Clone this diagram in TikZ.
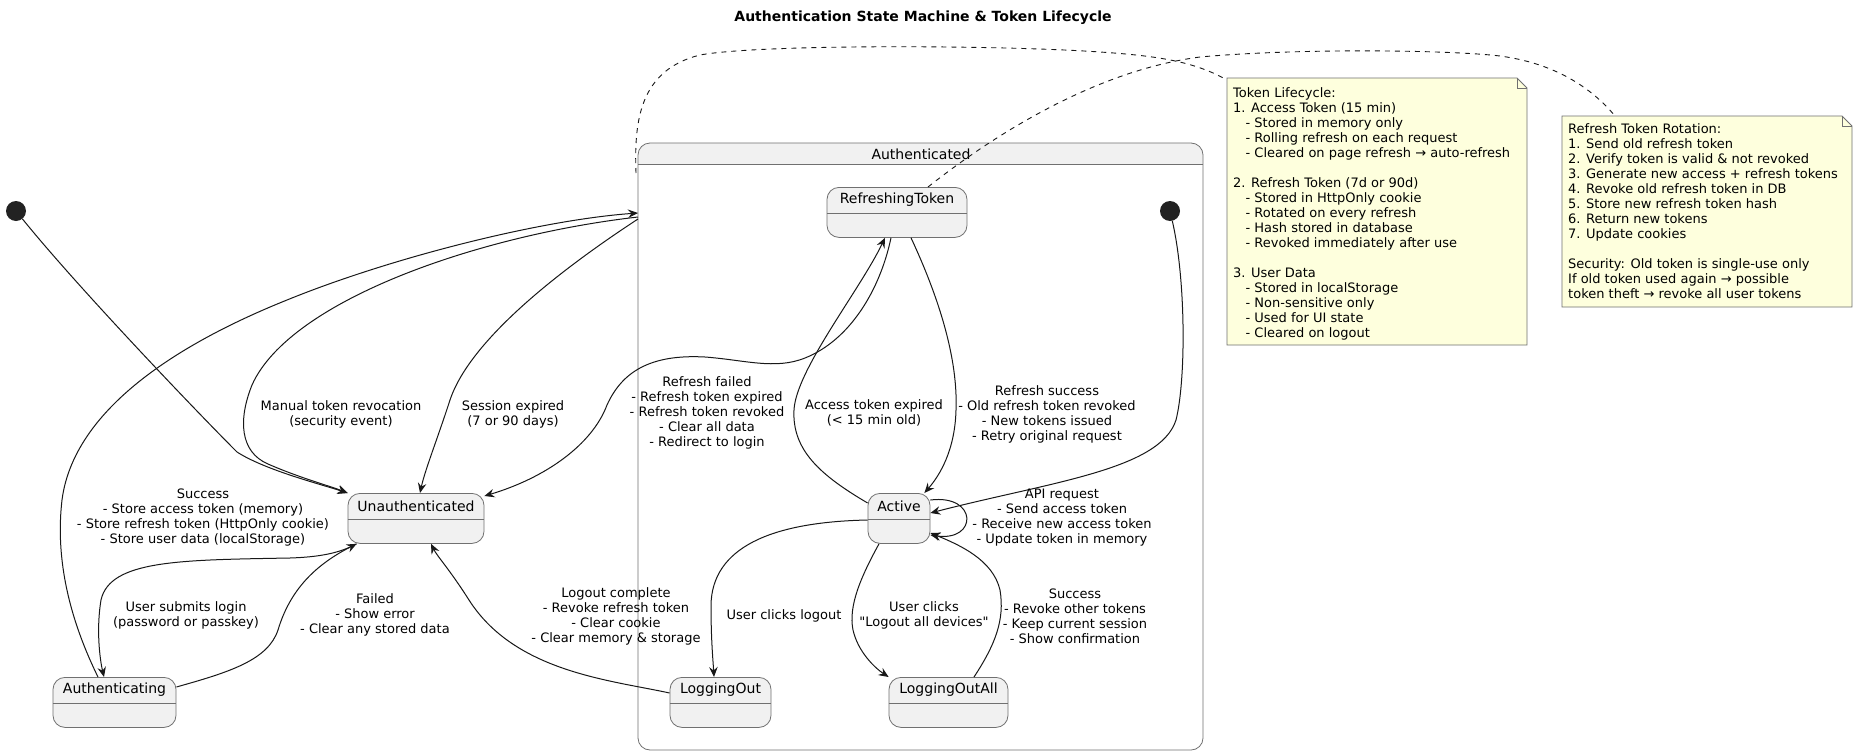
\documentclass[tikz,border=0pt]{standalone}
\usepackage{fontspec}
\setmainfont{DejaVu Sans}[Ligatures=TeXOff]
\usetikzlibrary{arrows.meta}
\definecolor{stfill}{HTML}{F1F1F1}
\definecolor{stborder}{HTML}{707070}
\definecolor{ln}{HTML}{181818}
\definecolor{notefill}{HTML}{FEFFDD}
\definecolor{dotc}{HTML}{222222}
\tikzset{
 stbox/.style={draw=stborder, fill=stfill, line width=0.8pt, rounded corners=12pt, inner sep=0pt, anchor=north},
 stname/.style={font=\fontsize{14}{16}\selectfont, inner sep=0pt, text=black},
 sepline/.style={draw=stborder, line width=0.8pt},
 tr/.style={draw=ln, line width=1pt, -{Stealth[length=10pt,width=8.5pt,inset=3.5pt]}},
 lbl/.style={font=\fontsize{13}{15}\selectfont, align=center, inner sep=0pt},
 notetext/.style={font=\fontsize{13}{15}\selectfont, align=left, inner sep=0pt, anchor=north west},
 noteshape/.style={draw=stborder, fill=notefill, line width=0.8pt},
 notelink/.style={draw=ln, line width=0.9pt, dash pattern=on 5pt off 5pt},
 startdot/.style={circle, fill=dotc, minimum size=20pt, inner sep=0pt},
}
\newcommand\mkstate[5]{%
 \node[stbox, minimum width=#4pt, minimum height=50pt] (#1) at (#2,#3) {};
 \draw[sepline] ([yshift=-26pt]#1.north west) -- ([yshift=-26pt]#1.north east);
 \node[stname] (#1-t) at ([yshift=-13pt]#1.north) {#5};
}
\newcommand\noteind{\hspace*{12.4pt}}
\begin{document}
\begin{tikzpicture}[x=1pt,y=-1pt]
\useasboundingbox (0,0) rectangle (1858,755);
\fill[white] (0,0) rectangle (1858,755);

% title
\node[font=\bfseries\fontsize{14}{16}\selectfont, inner sep=0pt] (title) at (923,18) {Authentication State Machine \& Token Lifecycle};

% composite state
\node[draw=none, minimum width=565pt, minimum height=607pt, anchor=north west, inner sep=0pt, outer sep=0pt] (authd) at (638,143) {};
\begin{scope}
 \clip (638,143) rectangle (1203,164);
 \fill[stfill, rounded corners=12pt] (638,143) rectangle (1203,200);
\end{scope}
\draw[stborder, line width=0.8pt, rounded corners=12pt] (authd.north west) rectangle (authd.south east);
\draw[sepline] ([yshift=-21pt]authd.north west) -- ([yshift=-21pt]authd.north east);
\node[stname] (authd-t) at (921,154) {Authenticated};

% states
\mkstate{unauth}{416}{493}{136}{Unauthenticated}
\mkstate{authing}{114.5}{677}{123}{Authenticating}
\mkstate{refresh}{897}{187}{140}{RefreshingToken}
\mkstate{active}{899}{493}{62}{Active}
\mkstate{loggingout}{720.5}{677}{101}{LoggingOut}
\mkstate{loggingoutall}{948.5}{677}{119}{LoggingOutAll}

\node[startdot] (init) at (16,211) {};
\node[startdot] (iinit) at (1170,211) {};

% transitions
\draw[tr] (init) .. controls (80,290) and (200,415) .. (237,452) .. controls (265,470) and (320,484) .. (unauth.north west);
\draw[tr] ([xshift=9pt]unauth.south west) .. controls (340,553) and (320,557) .. (290,558) .. controls (180,560) and (110,560) .. (101,600) .. controls (96,630) and (100,660) .. ([xshift=-10.5pt]authing.north);
\draw[tr] ([yshift=-10pt]authing.north east) .. controls (230,672) and (268,660) .. (278,630) .. controls (290,590) and (315,565) .. ([xshift=9pt]unauth.south west);
\draw[tr] ([xshift=-16.5pt]authing.north) .. controls (70,620) and (55,560) .. (62,500) .. controls (75,400) and (200,335) .. (287,300) .. controls (390,258) and (540,220) .. ([yshift=-70pt]authd.north west);
\draw[tr] ([yshift=-74pt]authd.north west) .. controls (480,235) and (290,300) .. (252,385) .. controls (238,420) and (240,452) .. (268,464) .. controls (300,478) and (330,486) .. (unauth.north west);
\draw[tr] ([yshift=-76pt]authd.north west) .. controls (560,270) and (470,340) .. (450,400) .. controls (437,440) and (425,470) .. ([xshift=4pt]unauth.north);
\draw[tr] ([xshift=-6pt]refresh.south) .. controls (880,290) and (850,340) .. (805,358) .. controls (775,370) and (745,360) .. (705,357) .. controls (650,354) and (622,372) .. (607,405) .. controls (592,445) and (545,478) .. ([yshift=-3pt]unauth.north east);
\draw[tr] ([yshift=-10pt]active.north west) .. controls (820,475) and (792,450) .. (794,410) .. controls (796,370) and (860,290) .. ([xshift=-12pt]refresh.south);
\draw[tr] ([xshift=14pt]refresh.south) .. controls (940,300) and (958,360) .. (956,410) .. controls (955,450) and (940,475) .. ([xshift=-6pt]active.north east);
\draw[tr] (iinit) .. controls (1186,280) and (1186,380) .. (1176,420) .. controls (1160,470) and (1050,482) .. ([yshift=-20pt]active.north east);
\draw[tr] ([yshift=-7pt]active.north east) .. controls (978,494) and (978,542) .. ([yshift=-42pt]active.north east);
\draw[tr] ([yshift=-27pt]active.north west) .. controls (770,522) and (712,548) .. (711,605) .. controls (711,640) and (713,660) .. ([xshift=-6.5pt]loggingout.north);
\draw[tr] ([xshift=-20pt]active.south) .. controls (862,575) and (848,605) .. (853,630) .. controls (858,652) and (875,668) .. (loggingoutall.north west);
\draw[tr] ([xshift=25.5pt]loggingoutall.north) .. controls (995,645) and (1005,620) .. (1000,590) .. controls (993,560) and (960,545) .. ([yshift=-40pt]active.north east);
\draw[tr] ([yshift=-16pt]loggingout.north west) .. controls (610,680) and (515,672) .. (469,600) .. controls (450,570) and (437,556) .. ([xshift=15pt]unauth.south);

% labels
\node[lbl] (l1) at (186,615) {User submits login\\(password or passkey)};
\node[lbl] (l2) at (375,615) {Failed\\- Show error\\- Clear any stored data};
\node[lbl] (l3) at (203,518) {Success\\- Store access token (memory)\\- Store refresh token (HttpOnly cookie)\\- Store user data (localStorage)};
\node[lbl] (l4) at (341,414) {Manual token revocation\\(security event)};
\node[lbl] (l5) at (513,414) {Session expired\\(7 or 90 days)};
\node[lbl] (l6) at (707,413) {Refresh failed\\- Refresh token expired\\- Refresh token revoked\\- Clear all data\\- Redirect to login};
\node[lbl] (l7) at (874,413) {Access token expired\\(< 15 min old)};
\node[lbl] (l8) at (1047,414) {Refresh success\\- Old refresh token revoked\\- New tokens issued\\- Retry original request};
\node[lbl] (l9) at (1062,518) {API request\\- Send access token\\- Receive new access token\\- Update token in memory};
\node[lbl] (l10) at (784,616) {User clicks logout};
\node[lbl] (l11) at (924,615) {User clicks\\\char34 Logout all devices\char34};
\node[lbl] (l12) at (1075,616) {Success\\- Revoke other tokens\\- Keep current session\\- Show confirmation};
\node[lbl] (l13) at (616,616) {Logout complete\\- Revoke refresh token\\- Clear cookie\\- Clear memory \& storage};

% notes
\node[draw=none, minimum width=300pt, minimum height=267pt, anchor=north west, inner sep=0pt, outer sep=0pt] (note1) at (1227,78) {};
\draw[noteshape] (note1.north west) -- ([xshift=-10pt]note1.north east) -- ([yshift=-10pt]note1.north east) -- (note1.south east) -- (note1.south west) -- cycle;
\draw[stborder, line width=0.8pt] ([xshift=-10pt]note1.north east) -- ([xshift=-10pt,yshift=-10pt]note1.north east) -- ([yshift=-10pt]note1.north east);
\node[notetext] (note1-t) at (1233,87) {Token Lifecycle:\\
1. Access Token (15 min)\\
\noteind- Stored in memory only\\
\noteind- Rolling refresh on each request\\
\noteind- Cleared on page refresh → auto-refresh\\
\mbox{}\\
2. Refresh Token (7d or 90d)\\
\noteind- Stored in HttpOnly cookie\\
\noteind- Rotated on every refresh\\
\noteind- Hash stored in database\\
\noteind- Revoked immediately after use\\
\mbox{}\\
3. User Data\\
\noteind- Stored in localStorage\\
\noteind- Non-sensitive only\\
\noteind- Used for UI state\\
\noteind- Cleared on logout};

\node[draw=none, minimum width=290pt, minimum height=191pt, anchor=north west, inner sep=0pt, outer sep=0pt] (note2) at (1562,116) {};
\draw[noteshape] (note2.north west) -- ([xshift=-10pt]note2.north east) -- ([yshift=-10pt]note2.north east) -- (note2.south east) -- (note2.south west) -- cycle;
\draw[stborder, line width=0.8pt] ([xshift=-10pt]note2.north east) -- ([xshift=-10pt,yshift=-10pt]note2.north east) -- ([yshift=-10pt]note2.north east);
\node[notetext] (note2-t) at (1568,123) {Refresh Token Rotation:\\
1. Send old refresh token\\
2. Verify token is valid \& not revoked\\
3. Generate new access + refresh tokens\\
4. Revoke old refresh token in DB\\
5. Store new refresh token hash\\
6. Return new tokens\\
7. Update cookies\\
\mbox{}\\
Security: Old token is single-use only\\
If old token used again → possible\\
token theft → revoke all user tokens};

% note links
\draw[notelink] ([xshift=-2pt,yshift=-30pt]authd.north west) .. controls (634,120) and (640,70) .. (700,55) .. controls (760,44) and (1000,45) .. (1100,52) .. controls (1160,56) and (1195,62) .. ([yshift=-2pt]note1.north west);
\draw[notelink] ([xshift=31pt]refresh.north) .. controls (1000,130) and (1100,70) .. (1200,57) .. controls (1300,48) and (1450,50) .. (1500,56) .. controls (1560,64) and (1595,92) .. ([xshift=53pt]note2.north west);
\end{tikzpicture}
\end{document}
